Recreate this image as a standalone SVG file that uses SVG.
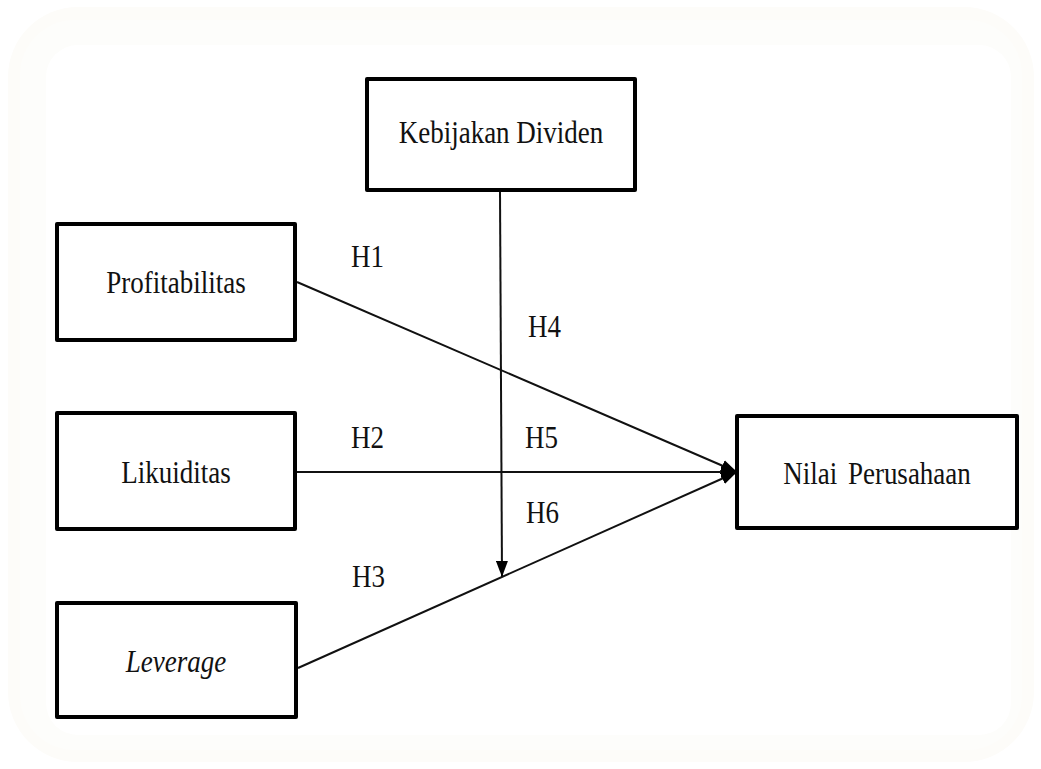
<svg xmlns="http://www.w3.org/2000/svg" width="1041" height="769" viewBox="0 0 1041 769">
<style>
.box{fill:#fff;stroke:#000;stroke-width:4;stroke-linejoin:round}
.t{font-family:"Liberation Serif","Times New Roman",serif;font-size:27px;fill:#111}
.c{stroke:#111;stroke-width:2;fill:none}
</style>
<defs>
<marker id="ah" viewBox="0 0 16 12" refX="16" refY="6" markerWidth="16" markerHeight="12" markerUnits="userSpaceOnUse" orient="auto">
<path d="M0,0 L16,6 L0,12 Z" fill="#000"/>
</marker>
</defs>
<rect width="1041" height="769" fill="#fff"/>
<g id="frame">
<rect x="8" y="7" width="1026" height="755" rx="70" fill="#fdfcf9"/>
<rect x="20" y="20" width="1002" height="730" rx="55" fill="#fdfdfb"/>
<rect x="46" y="45" width="965" height="690" rx="32" fill="#fff"/>
</g>
<g id="connectors">
<line class="c" x1="297" y1="282" x2="737" y2="472" marker-end="url(#ah)"/>
<line class="c" x1="297" y1="472" x2="737" y2="472" marker-end="url(#ah)"/>
<line class="c" x1="298" y1="668" x2="737" y2="472" marker-end="url(#ah)"/>
<line class="c" x1="500" y1="191" x2="502" y2="577" marker-end="url(#ah)"/>
</g>
<g id="labels">
<text class="t" transform="translate(351,267) scale(1,1.2)">H1</text>
<text class="t" transform="translate(351,448) scale(1,1.2)">H2</text>
<text class="t" transform="translate(352,587) scale(1,1.2)">H3</text>
<text class="t" transform="translate(528,337) scale(1,1.2)">H4</text>
<text class="t" transform="translate(525,448) scale(1,1.2)">H5</text>
<text class="t" transform="translate(526,523) scale(1,1.2)">H6</text>
</g>
<g id="kebijakan">
<rect class="box" x="367" y="79" width="268" height="111"/>
<text class="t" text-anchor="middle" transform="translate(501,143) scale(1,1.2)">Kebijakan Dividen</text>
</g>
<g id="profitabilitas">
<rect class="box" x="57" y="224" width="238" height="116"/>
<text class="t" text-anchor="middle" transform="translate(176,293) scale(1,1.2)">Profitabilitas</text>
</g>
<g id="likuiditas">
<rect class="box" x="57" y="413" width="238" height="116"/>
<text class="t" text-anchor="middle" transform="translate(176,483) scale(1,1.2)">Likuiditas</text>
</g>
<g id="leverage">
<rect class="box" x="57" y="603" width="239" height="114"/>
<text class="t" text-anchor="middle" font-style="italic" transform="translate(176,672) scale(1,1.2)">Leverage</text>
</g>
<g id="nilai">
<rect class="box" x="737" y="416" width="280" height="112"/>
<text class="t" text-anchor="middle" transform="translate(877,484) scale(1,1.2)" word-spacing="4">Nilai Perusahaan</text>
</g>
</svg>
